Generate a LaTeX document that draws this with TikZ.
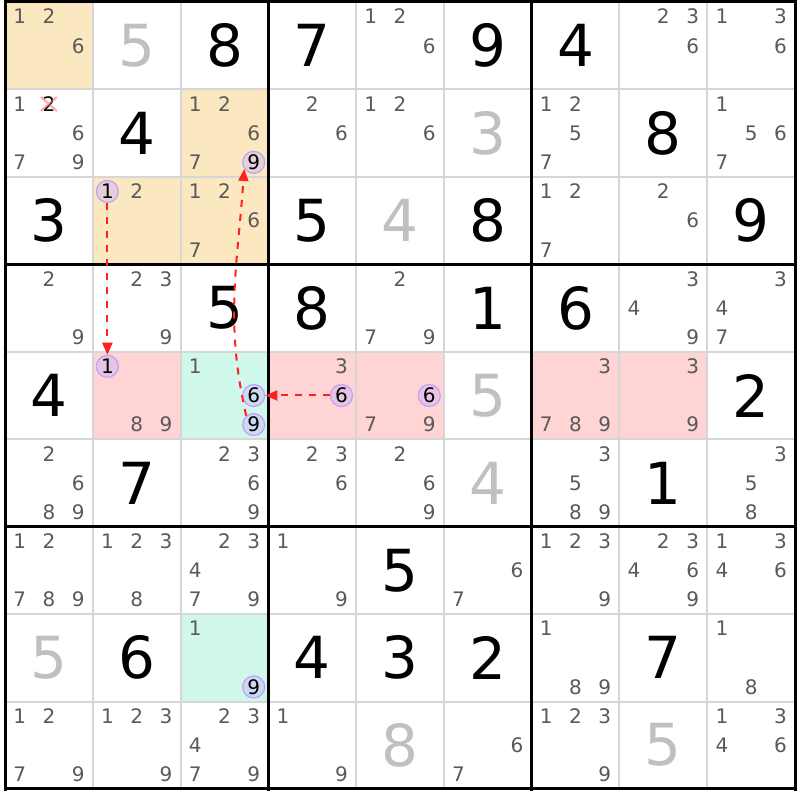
\documentclass[tikz,border=0pt]{standalone}
\usepackage{fontspec}
\setmainfont{DejaVu Sans}
\usetikzlibrary{arrows.meta}

\definecolor{candgray}{HTML}{5A5A5A}
\definecolor{solvedgray}{HTML}{C0C0C0}
\definecolor{gridgray}{HTML}{D6D6D6}
\definecolor{pairbg}{HTML}{FCE8C0}
\definecolor{elimbg}{HTML}{FFD4D4}
\definecolor{pivotbg}{HTML}{D0F8EA}
\definecolor{linkfill}{HTML}{C8B4F8}
\definecolor{linkdraw}{HTML}{C0A0F8}
\definecolor{crossred}{HTML}{FF7070}
\definecolor{chainred}{HTML}{FF2020}

% cell helpers (row, column)
\newcommand{\cellfill}[3]{%
  \pgfmathsetmacro\cx{5+(#2-1)*87.78}
  \pgfmathsetmacro\cy{-2-(#1-1)*87.44}
  \fill[#3] (\cx,\cy) rectangle ++(87.78,-87.44);}

\newcommand{\givendig}[4][given]{%
  \pgfmathsetmacro\cx{5+(#3-0.5)*87.78}
  \pgfmathsetmacro\cy{-2-(#2-0.5)*87.44}
  \node[#1] (v#2#3) at (\cx,\cy) {#4};}

\newcommand{\cands}[4][cand]{%
  \foreach \d in {#4} {
    \pgfmathsetmacro\cx{5+(#3-1)*87.78+(mod(\d-1,3)+0.5)*29.26}
    \pgfmathsetmacro\cy{-2-(#2-1)*87.44-(floor((\d-1)/3)+0.5)*29.15}
    \node[#1] (c#2#3\d) at (\cx,\cy) {\d};
  }}

\begin{document}
\begin{tikzpicture}[x=1pt,y=1pt,
    given/.style={font=\fontsize{58}{58}\selectfont,inner sep=0pt},
    solved/.style={given,text=solvedgray},
    cand/.style={font=\fontsize{20}{20}\selectfont,text=candgray,inner sep=0pt},
    link/.style={cand,text=black,circle,minimum size=22pt,fill=linkfill,
      fill opacity=0.45,text opacity=1,draw=linkdraw,line width=1.2pt},
    chain/.style={chainred,dash pattern=on 7pt off 7pt,line width=2pt,
      -{Triangle[length=12pt,width=10pt]}}]

  \useasboundingbox (0,0) rectangle (800,-800);
  \fill[white] (0,0) rectangle (800,-800);

  % Cell colours
  \cellfill{1}{1}{pairbg}
  \cellfill{2}{3}{pairbg}
  \cellfill{3}{2}{pairbg}
  \cellfill{3}{3}{pairbg}
  \foreach \c in {2,4,5,7,8} {\cellfill{5}{\c}{elimbg}}
  \cellfill{5}{3}{pivotbg}
  \cellfill{8}{3}{pivotbg}

  % Grid
  \foreach \i in {0,...,9} {
    \draw[gridgray,line width=2pt] ({5+\i*87.78},-2) -- ({5+\i*87.78},-789);
    \draw[gridgray,line width=2pt] (5,{-2-\i*87.44}) -- (795,{-2-\i*87.44});
  }
  \foreach \i in {0,3,6,9} {
    \draw[line width=3pt,line cap=rect] ({5+\i*87.78},-2) -- ({5+\i*87.78},-789);
    \draw[line width=3pt,line cap=rect] (5,{-2-\i*87.44}) -- (795,{-2-\i*87.44});
  }

  % Givens
  \givendig{1}{3}{8} \givendig{1}{4}{7} \givendig{1}{6}{9} \givendig{1}{7}{4}
  \givendig{2}{2}{4} \givendig{2}{8}{8}
  \givendig{3}{1}{3} \givendig{3}{4}{5} \givendig{3}{6}{8} \givendig{3}{9}{9}
  \givendig{4}{3}{5} \givendig{4}{4}{8} \givendig{4}{6}{1} \givendig{4}{7}{6}
  \givendig{5}{1}{4} \givendig{5}{9}{2}
  \givendig{6}{2}{7} \givendig{6}{8}{1}
  \givendig{7}{5}{5}
  \givendig{8}{2}{6} \givendig{8}{4}{4} \givendig{8}{5}{3} \givendig{8}{6}{2} \givendig{8}{8}{7}

  % Solved
  \givendig[solved]{1}{2}{5} \givendig[solved]{2}{6}{3} \givendig[solved]{3}{5}{4}
  \givendig[solved]{5}{6}{5} \givendig[solved]{6}{6}{4} \givendig[solved]{8}{1}{5}
  \givendig[solved]{9}{5}{8} \givendig[solved]{9}{8}{5}

  % Candidates
  \cands{1}{1}{1,2,6} \cands{1}{5}{1,2,6} \cands{1}{8}{2,3,6} \cands{1}{9}{1,3,6}
  \cands{2}{1}{1,6,7,9} \cands[cand,text=black]{2}{1}{2}
  \cands{2}{3}{1,2,6,7} \cands{2}{4}{2,6} \cands{2}{5}{1,2,6}
  \cands{2}{7}{1,2,5,7} \cands{2}{9}{1,5,6,7}
  \cands{3}{2}{2} \cands{3}{3}{1,2,6,7} \cands{3}{7}{1,2,7} \cands{3}{8}{2,6}
  \cands{4}{1}{2,9} \cands{4}{2}{2,3,9} \cands{4}{5}{2,7,9} \cands{4}{8}{3,4,9}
  \cands{4}{9}{3,4,7}
  \cands{5}{2}{8,9} \cands{5}{3}{1} \cands{5}{4}{3} \cands{5}{5}{7,9}
  \cands{5}{7}{3,7,8,9} \cands{5}{8}{3,9}
  \cands{6}{1}{2,6,8,9} \cands{6}{3}{2,3,6,9} \cands{6}{4}{2,3,6} \cands{6}{5}{2,6,9}
  \cands{6}{7}{3,5,8,9} \cands{6}{9}{3,5,8}
  \cands{7}{1}{1,2,7,8,9} \cands{7}{2}{1,2,3,8} \cands{7}{3}{2,3,4,7,9} \cands{7}{4}{1,9}
  \cands{7}{6}{6,7} \cands{7}{7}{1,2,3,9} \cands{7}{8}{2,3,4,6,9} \cands{7}{9}{1,3,4,6}
  \cands{8}{3}{1} \cands{8}{7}{1,8,9} \cands{8}{9}{1,8}
  \cands{9}{1}{1,2,7,9} \cands{9}{2}{1,2,3,9} \cands{9}{3}{2,3,4,7,9} \cands{9}{4}{1,9}
  \cands{9}{6}{6,7} \cands{9}{7}{1,2,3,9} \cands{9}{9}{1,3,4,6}

  % Linked candidates
  \cands[link]{2}{3}{9}
  \cands[link]{3}{2}{1}
  \cands[link]{5}{2}{1}
  \cands[link]{5}{3}{6,9}
  \cands[link]{5}{4}{6}
  \cands[link]{5}{5}{6}
  \cands[link]{8}{3}{9}

  % Eliminated candidate
  \draw[crossred,line width=2pt,opacity=0.6]
    ([shift={(-8,7)}]c212.center) -- ([shift={(8,-7)}]c212.center)
    ([shift={(-8,-7)}]c212.center) -- ([shift={(8,7)}]c212.center);

  % Chain
  \draw[chain] (c321) -- (c521);
  \draw[chain] (c546) -- (c536);
  \draw[chain] (c539.130) to[out=103,in=-94] (c239.215);

\end{tikzpicture}
\end{document}
